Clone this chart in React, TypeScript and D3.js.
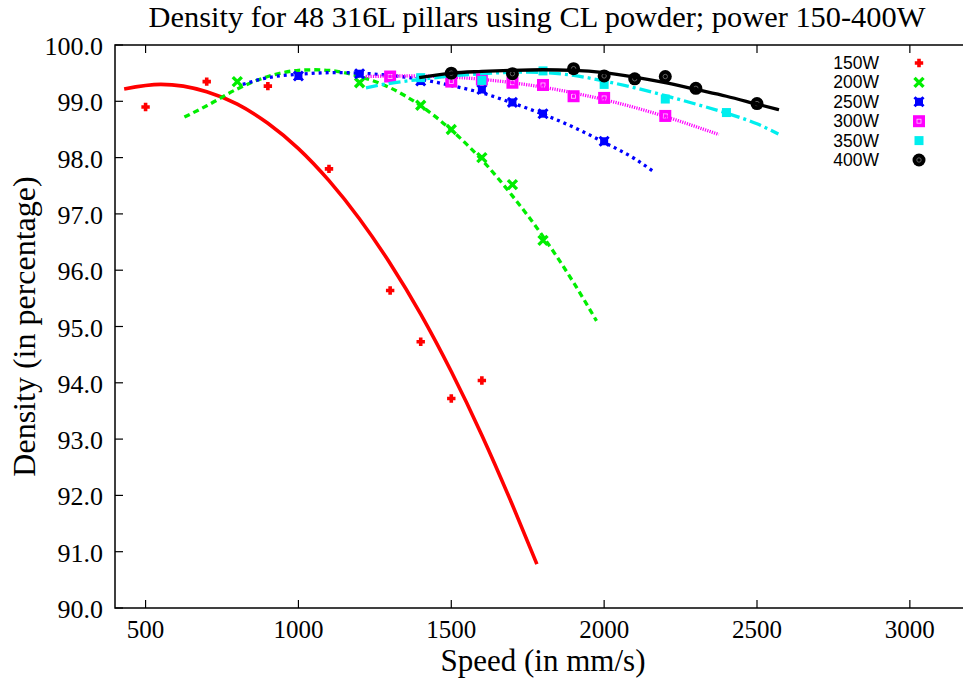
import React from "react";
import * as d3 from "d3";

const W = 963;
const H = 681;

const xTicks = [500, 1000, 1500, 2000, 2500, 3000];
const yTicks = [90, 91, 92, 93, 94, 95, 96, 97, 98, 99, 100];

const powers = ["150W", "200W", "250W", "300W", "350W", "400W"];
const colors = ["#ff0000", "#00ee00", "#0000ff", "#ff00ff", "#00eeee", "#000000"];

const pts150: [number, number][] = [[500, 98.9], [700, 99.35], [900, 99.27], [1100, 97.8], [1300, 95.64], [1400, 94.73], [1500, 93.72], [1600, 94.04]];
const pts200: [number, number][] = [[800, 99.35], [1200, 99.33], [1400, 98.93], [1500, 98.5], [1600, 98.0], [1700, 97.52], [1800, 96.53]];
const pts250: [number, number][] = [[1000, 99.45], [1200, 99.49], [1400, 99.36], [1600, 99.21], [1700, 98.98], [1800, 98.78], [2000, 98.29]];
const pts300: [number, number][] = [[1300, 99.44], [1500, 99.35], [1600, 99.39], [1700, 99.33], [1800, 99.29], [1900, 99.09], [2000, 99.06], [2200, 98.74]];
const pts350: [number, number][] = [[1400, 99.42], [1600, 99.37], [1800, 99.54], [2000, 99.3], [2200, 99.04], [2400, 98.8]];
const pts400: [number, number][] = [[1500, 99.5], [1700, 99.49], [1900, 99.58], [2000, 99.45], [2100, 99.4], [2200, 99.44], [2300, 99.23], [2500, 98.96]];

const fit150: [number, number][] = [[430, 99.22], [550, 99.3], [700, 99.17], [800, 98.95], [900, 98.61], [1000, 98.16], [1100, 97.59], [1200, 96.91], [1300, 96.12], [1400, 95.22], [1500, 94.2], [1600, 93.07], [1700, 91.83], [1780, 90.78]];
const fit200: [number, number][] = [[627, 98.72], [700, 98.92], [800, 99.22], [900, 99.44], [1000, 99.55], [1050, 99.56], [1100, 99.55], [1200, 99.44], [1300, 99.24], [1400, 98.92], [1500, 98.49], [1600, 97.96], [1700, 97.32], [1800, 96.6], [1900, 95.78], [1975, 95.1]];
const fit250: [number, number][] = [[818, 99.3], [900, 99.42], [1000, 99.48], [1130, 99.51], [1200, 99.5], [1300, 99.46], [1400, 99.39], [1500, 99.28], [1600, 99.15], [1700, 98.97], [1800, 98.77], [1900, 98.54], [2000, 98.27], [2100, 97.98], [2165, 97.74]];
const fit300: [number, number][] = [[1220, 99.44], [1350, 99.45], [1500, 99.43], [1600, 99.39], [1700, 99.33], [1800, 99.25], [1900, 99.15], [2000, 99.03], [2100, 98.89], [2200, 98.73], [2300, 98.55], [2375, 98.41]];
const fit350: [number, number][] = [[1221, 99.24], [1300, 99.32], [1400, 99.39], [1500, 99.45], [1600, 99.49], [1700, 99.515], [1750, 99.52], [1800, 99.51], [1900, 99.46], [2000, 99.36], [2100, 99.24], [2200, 99.1], [2300, 98.95], [2400, 98.79], [2500, 98.6], [2570, 98.42]];
const fit400: [number, number][] = [[1395, 99.42], [1500, 99.5], [1600, 99.53], [1700, 99.55], [1800, 99.56], [1900, 99.55], [2000, 99.51], [2100, 99.43], [2200, 99.33], [2300, 99.21], [2400, 99.09], [2500, 98.95], [2572, 98.85]];

const allPts = [pts150, pts200, pts250, pts300, pts350, pts400];
const allFits = [fit150, fit200, fit250, fit300, fit350, fit400];
const dashes = ["none", "6,4", "3,4", "1.2,1.2", "12,4,3,4", "none"];

const left = 115, right = 971, top = 45, bottom = 608;
const x = d3.scaleLinear().domain([400, 3200]).range([left, right]);
const y = d3.scaleLinear().domain([90, 100]).range([bottom, top]);

function Marker({ i, cx, cy }: { i: number; cx: number; cy: number }) {
  const c = colors[i];
  if (i === 0) {
    return <path d={`M${cx - 4.2},${cy}H${cx + 4.2}M${cx},${cy - 4.2}V${cy + 4.2}`} stroke={c} strokeWidth={3.6} />;
  }
  if (i === 1) {
    const s = 4.5;
    return <path d={`M${cx - s},${cy - s}L${cx + s},${cy + s}M${cx - s},${cy + s}L${cx + s},${cy - s}`} stroke={c} strokeWidth={3.4} />;
  }
  if (i === 2) {
    const s = 4.5;
    return (
      <g>
        <path d={`M${cx - s},${cy - s}L${cx + s},${cy + s}M${cx - s},${cy + s}L${cx + s},${cy - s}`} stroke={c} strokeWidth={3} />
        <rect x={cx - 4} y={cy - 4} width={8} height={8} fill={c} />
      </g>
    );
  }
  if (i === 3) {
    return (
      <g>
        <rect x={cx - 6} y={cy - 6} width={12} height={12} fill={c} />
        <rect x={cx - 2} y={cy - 2} width={4} height={4} fill="none" stroke="#ffd0ff" strokeWidth={0.8} />
      </g>
    );
  }
  if (i === 4) {
    return <rect x={cx - 4.5} y={cy - 4.5} width={9} height={9} fill={c} />;
  }
  return (
    <g>
      <circle cx={cx} cy={cy} r={6.5} fill={c} />
      <circle cx={cx} cy={cy} r={2.2} fill="none" stroke="#777" strokeWidth={0.8} />
    </g>
  );
}

export default function App() {
  const line = d3.line<[number, number]>().x((d) => x(d[0])).y((d) => y(d[1])).curve(d3.curveMonotoneX);
  const serif = "'Liberation Serif', 'Times New Roman', serif";
  const sans = "'Liberation Sans', Arial, sans-serif";
  return (
    <svg width={W} height={H} style={{ position: "absolute", left: 0, top: 0, background: "#fff" }}>
      <rect x={0} y={0} width={W} height={H} fill="#fff" />
      <text x={537} y={27} fontFamily={serif} fontSize={30.4} textAnchor="middle" fill="#000">
        Density for 48 316L pillars using CL powder; power 150-400W
      </text>
      {xTicks.map((t) => (
        <g key={"x" + t}>
          <line x1={x(t)} x2={x(t)} y1={bottom} y2={bottom - 8} stroke="#000" strokeWidth={1.2} />
          <line x1={x(t)} x2={x(t)} y1={top} y2={top + 8} stroke="#000" strokeWidth={1.2} />
          <text x={x(t)} y={638} fontFamily={serif} fontSize={25} textAnchor="middle" fill="#000">{t}</text>
        </g>
      ))}
      {yTicks.map((t) => (
        <g key={"y" + t}>
          <line x1={left} x2={left + 8} y1={y(t)} y2={y(t)} stroke="#000" strokeWidth={1.2} />
          <line x1={right} x2={right - 8} y1={y(t)} y2={y(t)} stroke="#000" strokeWidth={1.2} />
          <text x={103} y={y(t) + 10} fontFamily={serif} fontSize={26} textAnchor="end" fill="#000">{t.toFixed(1)}</text>
        </g>
      ))}
      <rect x={left} y={top} width={right - left} height={bottom - top} fill="none" stroke="#000" strokeWidth={1.5} />
      <text x={543} y={671} fontFamily={serif} fontSize={31} textAnchor="middle" fill="#000">Speed (in mm/s)</text>
      <text transform={`translate(35,${(top + bottom) / 2}) rotate(-90)`} fontFamily={serif} fontSize={32} textAnchor="middle" fill="#000">
        Density (in percentage)
      </text>
      {allFits.map((f, i) => (
        <g key={"s" + i}>
          {allPts[i].map((p, j) => (
            <Marker key={j} i={i} cx={x(p[0])} cy={y(p[1])} />
          ))}
          <path d={line(f) || ""} fill="none" stroke={colors[i]} strokeWidth={i === 0 ? 3.6 : 3.3} strokeDasharray={dashes[i]} />
        </g>
      ))}
      {powers.map((p, i) => (
        <g key={"l" + p}>
          <text x={879} y={69 + i * 19.4} fontFamily={sans} fontSize={17.5} textAnchor="end" fill="#000">{p}</text>
          <Marker i={i} cx={919} cy={63 + i * 19.4} />
        </g>
      ))}
    </svg>
  );
}
